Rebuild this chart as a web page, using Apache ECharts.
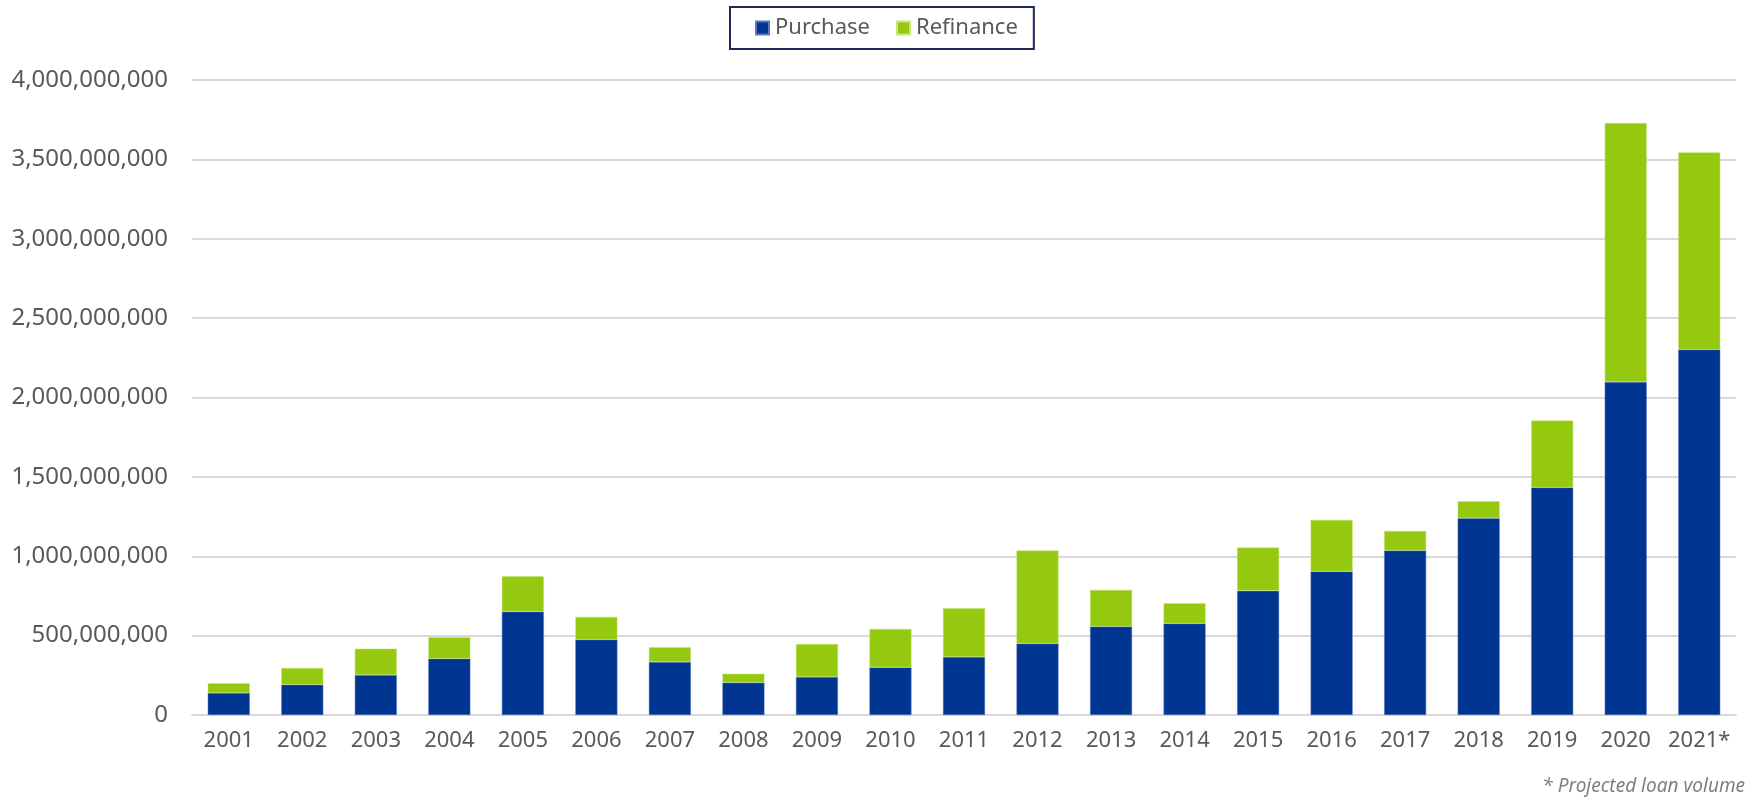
<!DOCTYPE html>
<html>
<head>
<meta charset="utf-8">
<script src="https://cdn.jsdelivr.net/npm/echarts@6/dist/echarts.min.js"></script>
<style>
html,body{margin:0;padding:0;background:#fff;}
#chart{width:1752px;height:801px;}
</style>
</head>
<body>
<div id="chart"></div>
<script>
var categories = ['2001','2002','2003','2004','2005','2006','2007','2008','2009','2010','2011','2012','2013','2014','2015','2016','2017','2018','2019','2020','2021*'];
var totals = [200e6, 296e6, 418e6, 489e6, 874e6, 618e6, 426e6, 260e6, 447e6, 542e6, 672e6, 1036e6, 788e6, 704e6, 1055e6, 1229e6, 1159e6, 1347e6, 1855e6, 3729e6, 3544e6];
var purchase = [139e6, 191e6, 252e6, 355e6, 651e6, 475e6, 334e6, 204e6, 240e6, 300e6, 366e6, 450e6, 557e6, 576e6, 782e6, 904e6, 1036e6, 1240e6, 1433e6, 2098e6, 2302e6];
var refinance = totals.map(function(t, i){ return t - purchase[i]; });
var yTicks = {min: 0, max: 4000000000, interval: 500000000};
var footnote = '* Projected loan volume';

var chart = echarts.init(document.getElementById('chart'));
chart.setOption({
  backgroundColor: '#ffffff',
  animation: false,
  textStyle: {fontFamily: 'Noto Sans'},
  legend: {
    left: 730, top: 7,
    padding: [10, 16, 10, 25],
    borderColor: '#1f2a5a', borderWidth: 2,
    itemWidth: 13, itemHeight: 13, itemGap: 26,
    icon: 'rect',
    textStyle: {fontSize: 22, color: '#595959', fontFamily: 'Noto Sans', padding: [0,0,0,1]},
    data: ['Purchase', 'Refinance']
  },
  grid: {left: 192, right: 16, top: 80, bottom: 86, containLabel: false},
  xAxis: {
    type: 'category', data: categories,
    axisLine: {lineStyle: {color: '#d9d9d9', width: 2}},
    axisTick: {show: false},
    axisLabel: {interval: 0, fontSize: 22, color: '#595959', margin: 15, fontFamily: 'Noto Sans'}
  },
  yAxis: {
    type: 'value', min: yTicks.min, max: yTicks.max, interval: yTicks.interval,
    axisLine: {show: false}, axisTick: {show: false},
    splitLine: {lineStyle: {color: '#d9d9d9', width: 2}},
    axisLabel: {fontSize: 24, color: '#595959', margin: 24, fontFamily: 'Noto Sans',
      formatter: function(v){ return Math.round(v).toLocaleString('en-US'); }}
  },
  series: [
    {name: 'Purchase', type: 'bar', stack: 'vol', data: purchase, barWidth: 42,
     itemStyle: {color: '#003591', borderColor: '#5a78c0', borderWidth: 0.5}},
    {name: 'Refinance', type: 'bar', stack: 'vol', data: refinance, barWidth: 42,
     itemStyle: {color: '#94c90f', borderColor: '#c6e57a', borderWidth: 0.5}}
  ],
  graphic: [{
    type: 'text', right: 7, top: 777,
    style: {text: footnote, fontSize: 19, fontStyle: 'italic', fill: '#7f7f7f', fontFamily: 'Noto Sans'}
  }]
});
</script>
</body>
</html>
